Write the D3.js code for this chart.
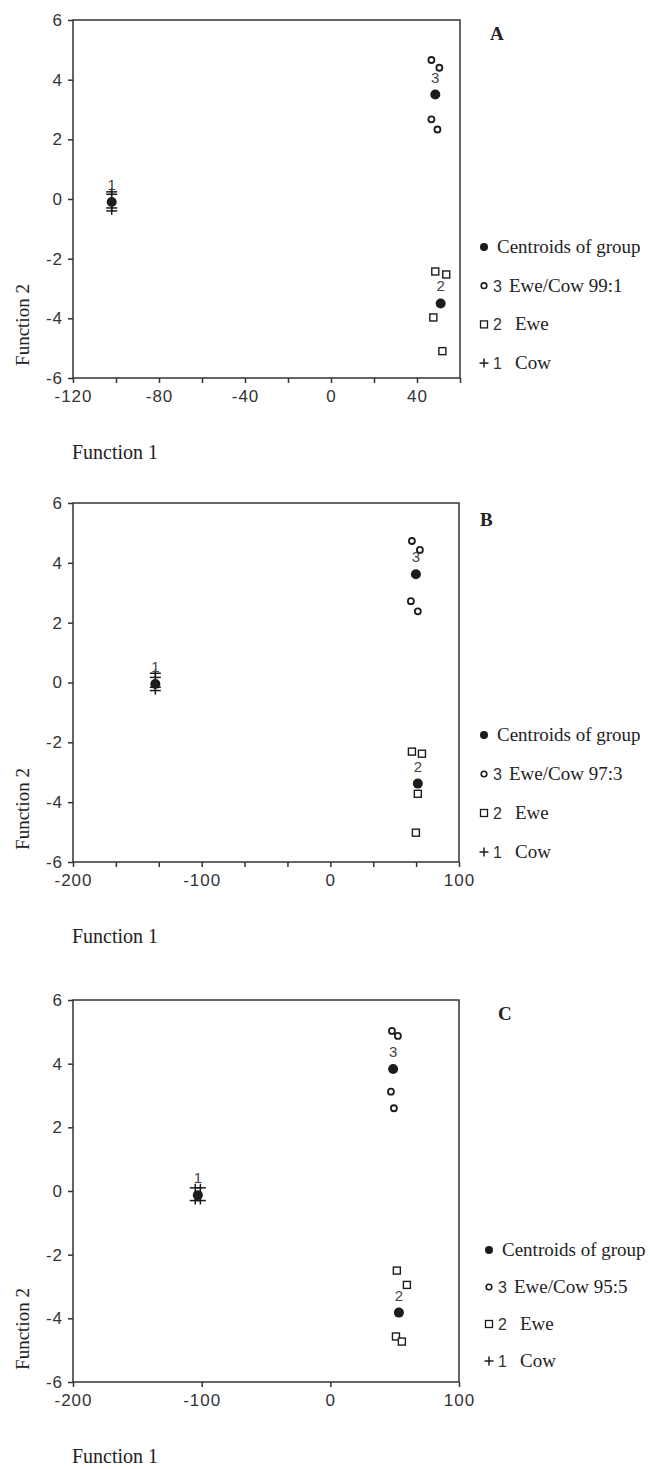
<!DOCTYPE html>
<html>
<head>
<meta charset="utf-8">
<script src="https://cdn.jsdelivr.net/npm/d3@7"></script>
<style>
  body { margin: 0; background: #fff; }
  .tick text { font-family: "Liberation Sans", Arial, sans-serif; font-size: 17px; letter-spacing: 1px; fill: #333; }
  .serif { font-family: "Liberation Serif", "Times New Roman", serif; fill: #222; }
  .sans { font-family: "Liberation Sans", Arial, sans-serif; fill: #333; }
</style>
</head>
<body>
<div id="chart"></div>
<script>
// Discriminant scores: [Function 1, Function 2]
// Panel A - Ewe/Cow 99:1
var cowA = [[-102, 0.24], [-102, 0.16], [-102, -0.3], [-102, -0.4]];
var eweA = [[48.5, -2.43], [53.6, -2.53], [47.6, -3.97], [51.8, -5.1]];
var mixA = [[46.7, 4.66], [50.4, 4.4], [46.7, 2.67], [49.5, 2.33]];
var centA = [[-102, -0.1], [51, -3.5], [48.5, 3.5]];   // groups 1, 2, 3

// Panel B - Ewe/Cow 97:3
var cowB = [[-136, 0.31], [-136, 0.17], [-136, -0.16], [-136, -0.27]];
var eweB = [[63.4, -2.31], [71.2, -2.38], [68, -3.72], [66.5, -5.02]];
var mixB = [[63.4, 4.73], [69.6, 4.43], [62.6, 2.72], [68, 2.38]];
var centB = [[-136, -0.05], [68, -3.38], [66.5, 3.62]];

// Panel C - Ewe/Cow 95:5
var cowC = [[-105, 0.1], [-101, 0.1], [-105, -0.3], [-101, -0.3]];
var eweC = [[51.7, -2.5], [59.5, -2.95], [51, -4.57], [55.6, -4.73]];
var mixC = [[47.9, 5.03], [52.5, 4.87], [47.1, 3.12], [49.4, 2.6]];
var centC = [[-103, -0.13], [53.3, -3.82], [48.8, 3.83]];

var yTicks = [-6, -4, -2, 0, 2, 4, 6];
var groupLabels = ["1", "2", "3"];

var width = 650, height = 1469;
var left = 73;

var panels = [
  { letter: "A", mix: "Ewe/Cow 99:1", cow: cowA, ewe: eweA, mixed: mixA, cent: centA,
    xDomain: [-120, 60], xTicks: d3.range(-120, 61, 20), xLabelEvery: 40,
    top: 20, bottom: 378, right: 460, legendY: 247, legendStep: 38.7, legendX: 484, letterX: 490, letterY: 40 },
  { letter: "B", mix: "Ewe/Cow 97:3", cow: cowB, ewe: eweB, mixed: mixB, cent: centB,
    xDomain: [-200, 100], xTicks: d3.range(0, 10).map(function(i) { return -200 + i * 100 / 3; }), xLabelEvery: 100,
    top: 503, bottom: 862, right: 459, legendY: 735, legendStep: 39, legendX: 484, letterX: 480, letterY: 526 },
  { letter: "C", mix: "Ewe/Cow 95:5", cow: cowC, ewe: eweC, mixed: mixC, cent: centC,
    xDomain: [-200, 100], xTicks: [-200, -100, 0, 100], xLabelEvery: 100,
    top: 1000, bottom: 1382, right: 459, legendY: 1250, legendStep: 37, legendX: 489, letterX: 498, letterY: 1020 }
];

var ink = "#1c1c1c";

var svg = d3.select("#chart").append("svg")
  .attr("width", width)
  .attr("height", height);

function plus(g, cx, cy, w, h) {
  g.append("line").attr("x1", cx - w / 2).attr("x2", cx + w / 2).attr("y1", cy).attr("y2", cy)
    .attr("stroke", ink).attr("stroke-width", 1.5);
  g.append("line").attr("x1", cx).attr("x2", cx).attr("y1", cy - h / 2).attr("y2", cy + h / 2)
    .attr("stroke", ink).attr("stroke-width", 1.5);
}

panels.forEach(function(p) {
  var x = d3.scaleLinear().domain(p.xDomain).range([left, p.right]);
  var y = d3.scaleLinear().domain([-6, 6]).range([p.bottom, p.top]);

  var g = svg.append("g");

  // Frame
  g.append("rect")
    .attr("x", left).attr("y", p.top)
    .attr("width", p.right - left).attr("height", p.bottom - p.top)
    .attr("fill", "none").attr("stroke", "#333").attr("stroke-width", 1.5);

  // Axes
  var xAxis = d3.axisBottom(x)
    .tickValues(p.xTicks)
    .tickSize(5)
    .tickPadding(7)
    .tickFormat(function(v) {
      var r = Math.round(v);
      return (Math.abs(v - r) < 1e-6 && r % p.xLabelEvery === 0) ? String(r) : "";
    });
  var gx = g.append("g").attr("transform", "translate(0," + p.bottom + ")").call(xAxis);
  gx.select(".domain").remove();
  gx.selectAll(".tick line").attr("stroke", "#333").attr("stroke-width", 1.5);

  var yAxis = d3.axisLeft(y)
    .tickValues(yTicks)
    .tickSize(5)
    .tickPadding(5)
    .tickFormat(function(v) { return String(v); });
  var gy = g.append("g").attr("transform", "translate(" + left + ",0)").call(yAxis);
  gy.select(".domain").remove();
  gy.selectAll(".tick line").attr("stroke", "#333").attr("stroke-width", 1.5);

  // Group 1: cow (plus signs)
  p.cow.forEach(function(d) { plus(g, x(d[0]), y(d[1]), 11, 8); });

  // Group 2: ewe (open squares)
  g.selectAll(".ewe").data(p.ewe).enter().append("rect")
    .attr("x", function(d) { return x(d[0]) - 3.5; })
    .attr("y", function(d) { return y(d[1]) - 3.5; })
    .attr("width", 7).attr("height", 7)
    .attr("fill", "#fff").attr("stroke", ink).attr("stroke-width", 1.4);

  // Group 3: mixture (small open circles)
  g.selectAll(".mix").data(p.mixed).enter().append("circle")
    .attr("cx", function(d) { return x(d[0]); })
    .attr("cy", function(d) { return y(d[1]); })
    .attr("r", 3)
    .attr("fill", "#fff").attr("stroke", ink).attr("stroke-width", 1.8);

  // Centroids
  g.selectAll(".cent").data(p.cent).enter().append("circle")
    .attr("cx", function(d) { return x(d[0]); })
    .attr("cy", function(d) { return y(d[1]); })
    .attr("r", 5)
    .attr("fill", ink);

  // Group numbers above the centroids
  g.selectAll(".glabel").data(p.cent).enter().append("text")
    .attr("class", "sans")
    .attr("x", function(d) { return x(d[0]); })
    .attr("y", function(d) { return y(d[1]) - 12; })
    .attr("text-anchor", "middle")
    .style("font-size", "15px")
    .style("fill", "#444")
    .text(function(d, i) { return groupLabels[i]; });

  // Panel letter
  g.append("text").attr("class", "serif")
    .attr("x", p.letterX).attr("y", p.letterY)
    .style("font-size", "19px").style("font-weight", "bold")
    .text(p.letter);

  // Axis titles
  g.append("text").attr("class", "serif")
    .attr("x", left - 1).attr("y", p.bottom + 81)
    .style("font-size", "20px")
    .text("Function 1");
  g.append("text").attr("class", "serif")
    .attr("transform", "translate(29," + (p.bottom - 53) + ") rotate(-90)")
    .attr("text-anchor", "middle")
    .style("font-size", "19px")
    .text("Function 2");

  // Legend
  var lg = g.append("g").attr("transform", "translate(" + p.legendX + "," + p.legendY + ")");
  var rows = [
    { num: "", label: "Centroids of group" },
    { num: "3", label: p.mix },
    { num: "2", label: "Ewe" },
    { num: "1", label: "Cow" }
  ];
  rows.forEach(function(r, i) {
    var ry = i * p.legendStep;
    if (i === 0) {
      lg.append("circle").attr("cx", 0).attr("cy", ry).attr("r", 4).attr("fill", ink);
      lg.append("text").attr("class", "serif").attr("x", 13).attr("y", ry + 6)
        .style("font-size", "19px").text(r.label);
    } else {
      if (i === 1) {
        lg.append("circle").attr("cx", 0).attr("cy", ry).attr("r", 2.8)
          .attr("fill", "#fff").attr("stroke", ink).attr("stroke-width", 1.6);
      } else if (i === 2) {
        lg.append("rect").attr("x", -3.5).attr("y", ry - 3.5).attr("width", 7).attr("height", 7)
          .attr("fill", "#fff").attr("stroke", ink).attr("stroke-width", 1.3);
      } else {
        plus(lg, 0, ry, 9, 9);
      }
      lg.append("text").attr("class", "sans").attr("x", 9).attr("y", ry + 6)
        .style("font-size", "16px").text(r.num);
      lg.append("text").attr("class", "serif").attr("x", i === 1 ? 25 : 31).attr("y", ry + 6)
        .style("font-size", "19px").text(r.label);
    }
  });
});
</script>
</body>
</html>
